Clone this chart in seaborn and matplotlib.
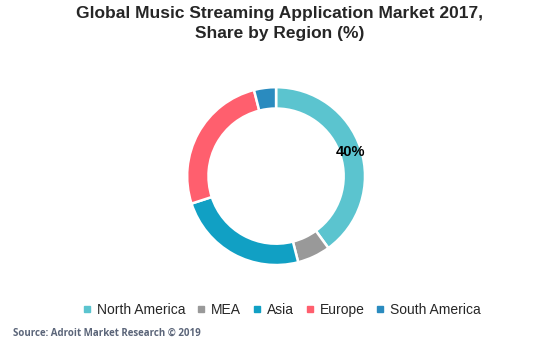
import matplotlib
matplotlib.use("Agg")
import matplotlib.pyplot as plt
import seaborn as sns
import numpy as np
from matplotlib.lines import Line2D

regions = ["North America", "MEA", "Asia", "Europe", "South America"]
shares = [40, 6, 24, 26, 4]
colors = ["#5BC4CF", "#999999", "#11A0C4", "#FF5F6E", "#2A8BBF"]
shown_labels = ["40%", "", "", "", ""]

sns.set_theme(style="white")
plt.rcParams['font.family'] = ['Liberation Sans', 'DejaVu Sans']

fig = plt.figure(figsize=(5.6, 3.46), dpi=100)
ax = fig.add_axes([0.334, 0.234, 0.318, 0.514])
wedges, _ = ax.pie(shares, colors=sns.color_palette(colors), startangle=90, counterclock=False,
                   radius=1.0, wedgeprops=dict(width=0.24, edgecolor="white", linewidth=1.8))
cum = 0
for v, lab in zip(shares, shown_labels):
    mid = cum + v / 2
    cum += v
    if lab:
        ang = np.deg2rad(90 - mid / sum(shares) * 360)
        r = 0.88
        ax.text(r * np.cos(ang), r * np.sin(ang), lab, ha="center", va="center",
                fontsize=10.5, fontweight="bold", color="black")
ax.set_xlim(-1, 1)
ax.set_ylim(-1, 1)
ax.set_aspect("equal")
ax.axis("off")

fig.text(0.5, 0.982, "Global Music Streaming Application Market 2017,\nShare by Region (%)",
         ha="center", va="top", fontsize=12.5, fontweight="bold", linespacing=1.42)

handles = [Line2D([0], [0], marker="s", linestyle="", markersize=3.8,
                  markerfacecolor=c, markeredgecolor=c) for c in colors]
fig.legend(handles, regions, loc="center", bbox_to_anchor=(0.501, 0.104), ncol=5, frameon=False,
           fontsize=10, handletextpad=0.2, columnspacing=0.65, handlelength=1.0)

fig.text(0.024, 0.022, "Source: Adroit Market Research \u00a9 2019", ha="left", va="bottom",
         fontsize=7, fontweight="bold", color="#5B6579", family=["Open Sans", "DejaVu Sans"])

fig.savefig("out.png", dpi=100, facecolor="white")
